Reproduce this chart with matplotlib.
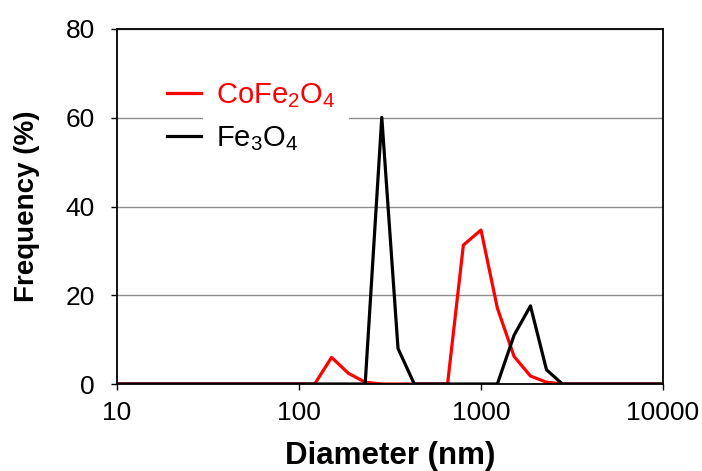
import matplotlib
matplotlib.use("Agg")
import matplotlib.pyplot as plt
from matplotlib.patches import Rectangle

plt.rcParams['font.family'] = ['Liberation Sans', 'DejaVu Sans']
plt.rcParams['mathtext.fontset'] = 'custom'
plt.rcParams['mathtext.rm'] = 'Liberation Sans'

# Size distributions (diameter in nm, frequency in %)
cofe_diam = [10, 122, 151, 187, 231, 285, 350, 430, 530, 655, 800, 1000, 1230, 1520, 1870, 2290, 2800, 10000]
cofe_freq = [0, 0, 6.0, 2.4, 0.4, 0, 0, 0, 0, 0, 31.3, 34.7, 17.1, 6.2, 1.8, 0.4, 0, 0]

fe3o4_diam = [10, 231, 285, 350, 430, 1000, 1230, 1520, 1870, 2290, 2800, 10000]
fe3o4_freq = [0, 0, 60.1, 8.0, 0, 0, 0, 11.0, 17.6, 3.2, 0, 0]

x_ticks = [10, 100, 1000, 10000]
x_tick_labels = ['10', '100', '1000', '10000']
y_ticks = [0, 20, 40, 60, 80]

fig = plt.figure(figsize=(7.02, 4.71), dpi=100)
ax = fig.add_axes([117 / 702, 1 - 384 / 471, 546 / 702, 355 / 471])

ax.plot(cofe_diam, cofe_freq, color='#ff0000', lw=2.3, label='CoFe$_2$O$_4$', zorder=2)
ax.plot(fe3o4_diam, fe3o4_freq, color='black', lw=2.3, label='Fe$_3$O$_4$', zorder=3)

ax.set_xscale('log')
ax.set_xlim(10, 10000)
ax.set_ylim(0, 80)
ax.set_xticks(x_ticks)
ax.set_xticklabels(x_tick_labels)
ax.xaxis.set_minor_locator(matplotlib.ticker.NullLocator())
ax.set_yticks(y_ticks)

ax.set_axisbelow(True)
ax.yaxis.grid(True, color='#8c8c8c', lw=1.0)
ax.tick_params(axis='both', direction='out', length=4, width=1.0, labelsize=19)
ax.tick_params(axis='x', pad=8)
ax.tick_params(axis='y', pad=12)

for s in ax.spines.values():
    s.set_color('black')
    s.set_linewidth(1.3)

ax.set_xlabel('Diameter (nm)', fontsize=22.5, fontweight='bold', labelpad=12)
ax.set_ylabel('Frequency (%)', fontsize=20, fontweight='bold', labelpad=18)

# white backing behind the legend text
ax.add_patch(Rectangle((0.1575, 0.62), 0.268, 0.25, transform=ax.transAxes,
                       facecolor='white', edgecolor='none', zorder=1))

leg = ax.legend(loc='upper left', bbox_to_anchor=(0.070, 0.887), frameon=False,
                fontsize=21, handlelength=1.16, handletextpad=0.51,
                labelspacing=0.51, labelcolor='linecolor', borderaxespad=0)
for h in leg.get_lines():
    h.set_linewidth(2.3)

fig.savefig('out.png', dpi=100)
